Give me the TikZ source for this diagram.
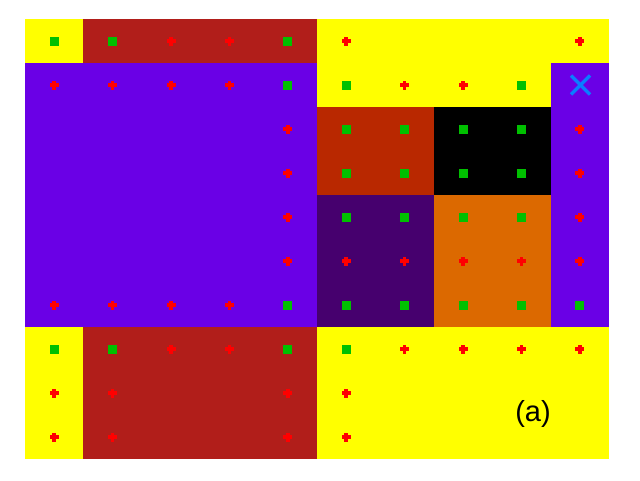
\documentclass[tikz,border=0pt]{standalone}
\usepackage{fontspec}
\setmainfont{Liberation Sans}
\definecolor{cyel}{RGB}{255,255,0}
\definecolor{cdred}{RGB}{177,30,26}
\definecolor{cpur}{RGB}{106,0,230}
\definecolor{crust}{RGB}{185,40,0}
\definecolor{cdpur}{RGB}{70,0,110}
\definecolor{corg}{RGB}{220,105,0}
\definecolor{cgreen}{RGB}{0,192,0}
\definecolor{cred}{RGB}{255,0,0}
\definecolor{cblue}{RGB}{10,125,255}
\begin{document}
\begin{tikzpicture}[x=1pt,y=-1pt,
  gsq/.style={fill=cgreen},
  rpl/.style={fill=cred},
  xmark/.style={draw=cblue,line width=3.5pt}]
\useasboundingbox (0,0) rectangle (640,480);
\fill[white] (0,0) rectangle (640,480);
% regions: X(i)=25+58.4 i, Y(j)=19+44 j
\fill[cyel] (25,19) rectangle (83.4,63);
\fill[cdred] (83.4,19) rectangle (317,63);
\fill[cyel] (317,19) rectangle (609,63);
\fill[cyel] (317,63) rectangle (550.6,107);
\fill[cpur] (25,63) rectangle (317,327);
\fill[cpur] (550.6,63) rectangle (609,327);
\fill[crust] (317,107) rectangle (433.8,195);
\fill[black] (433.8,107) rectangle (550.6,195);
\fill[cdpur] (317,195) rectangle (433.8,327);
\fill[corg] (433.8,195) rectangle (550.6,327);
\fill[cyel] (25,327) rectangle (83.4,459);
\fill[cdred] (83.4,327) rectangle (317,459);
\fill[cyel] (317,327) rectangle (609,459);
% green squares
\foreach \c/\r in {0/0,1/0,4/0, 4/1,5/1,8/1, 5/2,6/2,7/2,8/2, 5/3,6/3,7/3,8/3,
  5/4,6/4,7/4,8/4, 4/6,5/6,6/6,7/6,8/6,9/6, 0/7,1/7,4/7,5/7}
  \fill[gsq] ({54.2+58.4*\c-4.5},{41+44*\r-4.5}) rectangle +(9,9);
% red plus marks
\foreach \c/\r in {2/0,3/0,5/0,9/0, 0/1,1/1,2/1,3/1,6/1,7/1, 4/2,9/2, 4/3,9/3, 4/4,9/4,
  4/5,5/5,6/5,7/5,8/5,9/5, 0/6,1/6,2/6,3/6, 2/7,3/7,6/7,7/7,8/7,9/7,
  0/8,1/8,4/8,5/8, 0/9,1/9,4/9,5/9}
  {\fill[rpl] ({54.2+58.4*\c-4.5},{41+44*\r-1.75}) rectangle +(9,3.5);
   \fill[rpl] ({54.2+58.4*\c-1.75},{41+44*\r-4.5}) rectangle +(3.5,9);}
% blue cross
\coordinate (xc) at (580.5,85);
\draw[xmark] ([shift={(-9.5,-9.5)}]xc) -- ([shift={(9.5,9.5)}]xc);
\draw[xmark] ([shift={(-9.5,9.5)}]xc) -- ([shift={(9.5,-9.5)}]xc);
\node[anchor=base,inner sep=0pt,font=\fontsize{29}{29}\selectfont] (lbl) at (533,421) {(a)};
\end{tikzpicture}
\end{document}
